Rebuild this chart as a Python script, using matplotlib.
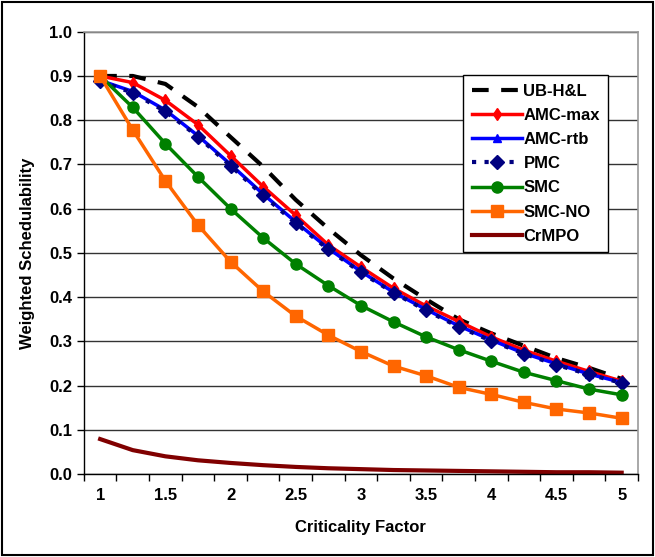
import numpy as np
import matplotlib
matplotlib.use("Agg")
import matplotlib.pyplot as plt
from matplotlib.patches import Rectangle
from matplotlib.ticker import MultipleLocator, FixedLocator

plt.rcParams["font.family"] = ["Liberation Sans", "DejaVu Sans"]
plt.rcParams["font.weight"] = "bold"

# data
criticality = [1.0, 1.25, 1.5, 1.75, 2.0, 2.25, 2.5, 2.75, 3.0,
               3.25, 3.5, 3.75, 4.0, 4.25, 4.5, 4.75, 5.0]
ub_hl = [0.900, 0.900, 0.882, 0.830, 0.762, 0.695, 0.620, 0.555, 0.495,
         0.442, 0.395, 0.350, 0.318, 0.290, 0.262, 0.240, 0.215]
amc_max = [0.900, 0.885, 0.845, 0.790, 0.720, 0.650, 0.585, 0.518, 0.468,
           0.420, 0.380, 0.345, 0.310, 0.280, 0.255, 0.232, 0.210]
amc_rtb = [0.890, 0.865, 0.823, 0.765, 0.700, 0.633, 0.570, 0.510, 0.458,
           0.411, 0.372, 0.335, 0.303, 0.273, 0.249, 0.226, 0.207]
pmc = [0.888, 0.862, 0.820, 0.763, 0.697, 0.630, 0.567, 0.508, 0.456,
       0.410, 0.370, 0.333, 0.301, 0.272, 0.247, 0.225, 0.206]
smc = [0.900, 0.829, 0.747, 0.672, 0.600, 0.534, 0.475, 0.426, 0.381,
       0.344, 0.310, 0.281, 0.255, 0.230, 0.211, 0.192, 0.179]
smc_no = [0.900, 0.778, 0.663, 0.563, 0.480, 0.413, 0.357, 0.314, 0.277,
          0.244, 0.222, 0.196, 0.180, 0.162, 0.147, 0.138, 0.126]
crmpo = [0.079, 0.054, 0.040, 0.031, 0.025, 0.020, 0.016, 0.013, 0.011,
         0.009, 0.008, 0.007, 0.006, 0.005, 0.004, 0.004, 0.003]

fig = plt.figure(figsize=(6.55, 5.57), dpi=100)
ax = fig.add_axes([0.128, 0.149, 0.846, 0.794])

ax.plot(criticality, ub_hl, color="black", lw=3, dashes=(4, 3), label="UB-H&L")
ax.plot(criticality, amc_max, color="#FF0000", lw=2.5, marker="d", ms=6,
        label="AMC-max")
ax.plot(criticality, amc_rtb, color="#0000FF", lw=2.5, marker="^", ms=6,
        label="AMC-rtb")
ax.plot(criticality, pmc, color="#000080", lw=3, ls=(0, (1, 2)), marker="D",
        ms=7, label="PMC")
ax.plot(criticality, smc, color="#008000", lw=2.5, marker="o", ms=8,
        label="SMC")
ax.plot(criticality, smc_no, color="#FF6600", lw=2.5, marker="s", ms=8,
        label="SMC-NO")
ax.plot(criticality, crmpo, color="#800000", lw=3, label="CrMPO")

ax.set_xlim(0.875, 5.125)
ax.set_ylim(0, 1.0)
ax.xaxis.set_major_locator(MultipleLocator(0.5))
ax.xaxis.set_minor_locator(FixedLocator(np.arange(0.875, 5.2, 0.25)))
ax.xaxis.set_major_formatter(plt.FuncFormatter(lambda v, p: f"{v:g}"))
ax.yaxis.set_major_locator(MultipleLocator(0.1))
ax.yaxis.set_major_formatter(plt.FuncFormatter(lambda v, p: f"{v:.1f}"))
ax.tick_params(axis="x", which="major", length=0, pad=10, labelsize=12)
ax.tick_params(axis="x", which="minor", length=5, width=1, direction="out")
ax.tick_params(axis="y", length=5, width=1, direction="out", labelsize=12)

ax.grid(axis="y", color="#333333", lw=1)
ax.set_axisbelow(True)
for side in ["top", "right"]:
    ax.spines[side].set_color("#999999")
    ax.spines[side].set_linewidth(1.2)
for side in ["left", "bottom"]:
    ax.spines[side].set_color("black")
    ax.spines[side].set_linewidth(1)

ax.set_xlabel("Criticality Factor", fontsize=12, fontweight="bold",
              labelpad=12)
ax.set_ylabel("Weighted Schedulability", fontsize=12, fontweight="bold",
              labelpad=10)

leg = ax.legend(loc="upper left", bbox_to_anchor=(0.67, 0.92),
                frameon=True, fancybox=False, edgecolor="black",
                framealpha=1, fontsize=12, handlelength=3.0,
                handletextpad=0.1, labelspacing=0.55, borderpad=0.5)
leg.get_frame().set_linewidth(1)

fig.patches.append(Rectangle((0.003, 0.003), 0.994, 0.994,
                             transform=fig.transFigure, fill=False,
                             edgecolor="black", lw=1.5))

fig.savefig("out.png", dpi=100)
